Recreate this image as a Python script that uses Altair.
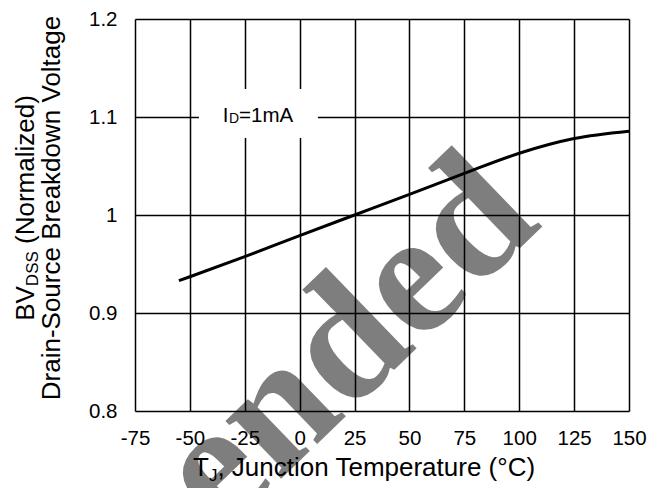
import altair as alt
import pandas as pd

# Curve data
temps = [-55, -50, -25, 0, 25, 50, 75, 100, 125, 150]
bv_norm = [0.933, 0.937, 0.9575, 0.979, 1.000, 1.021, 1.0425, 1.063, 1.078, 1.0855]

x_ticks = [-75, -50, -25, 0, 25, 50, 75, 100, 125, 150]
y_ticks = [0.8, 0.9, 1.0, 1.1, 1.2]

FONT = "Liberation Sans"
W, H = 494, 392

curve = pd.DataFrame({"t": temps, "bv": bv_norm})
box = pd.DataFrame({"x1": [-45.9], "x2": [8.3], "y1": [1.0786], "y2": [1.1286]})
one = pd.DataFrame({"a": [0]})

xs = alt.Scale(domain=[-75, 150], nice=False, zero=False)
ys = alt.Scale(domain=[0.8, 1.2], nice=False, zero=False)

xaxis = alt.Axis(values=x_ticks, title="", grid=True, gridColor="black", gridWidth=1.5,
                 gridOpacity=1, domain=False, ticks=False, tickSize=0, labelPadding=17,
                 labelFont=FONT, labelFontSize=20.5, labelColor="black",
                 labelExpr="datum.value + ''", labelFlush=False, labelOverlap=False)
yaxis = alt.Axis(values=y_ticks, title="", grid=True, gridColor="black", gridWidth=1.5,
                 gridOpacity=1, domain=False, ticks=False, tickSize=0, labelPadding=18,
                 labelFont=FONT, labelFontSize=20.5, labelColor="black",
                 labelExpr="format(datum.value, '.1~f')", labelFlush=False, labelOverlap=False)

base_line = alt.Chart(curve).mark_line(color="black", strokeWidth=3, interpolate="monotone").encode(
    x=alt.X("t:Q", scale=xs, axis=xaxis),
    y=alt.Y("bv:Q", scale=ys, axis=yaxis),
)

rect = alt.Chart(box).mark_rect(color="white", opacity=1).encode(
    x=alt.X("x1:Q", scale=xs), x2="x2:Q",
    y=alt.Y("y1:Q", scale=ys), y2="y2:Q",
)

# I_D=1mA label pieces
lab_df = pd.DataFrame({"x": [-19.1], "y": [1.0952]})
F1, S1 = 20.5, 14
w_I = 0.278 * F1
w_D = 0.722 * S1
tot = w_I + w_D + 2.640 * F1
start = -tot / 2
lab_I = alt.Chart(lab_df).mark_text(text="I", font=FONT, fontSize=F1, align="left",
                                    baseline="alphabetic", dx=start, color="black").encode(
    x=alt.X("x:Q", scale=xs), y=alt.Y("y:Q", scale=ys))
lab_D = alt.Chart(lab_df).mark_text(text="D", font=FONT, fontSize=S1, align="left",
                                    baseline="alphabetic", dx=start + w_I + 0.5, dy=1, color="black").encode(
    x=alt.X("x:Q", scale=xs), y=alt.Y("y:Q", scale=ys))
lab_R = alt.Chart(lab_df).mark_text(text="=1mA", font=FONT, fontSize=F1, align="left",
                                    baseline="alphabetic", dx=start + w_I + w_D + 0.5, color="black").encode(
    x=alt.X("x:Q", scale=xs), y=alt.Y("y:Q", scale=ys))

# Y title (two lines, rotated)
FT, ST = 26, 17
w_BV = 1.334 * FT
w_DSS = 2.056 * ST
w_sp = 0.278 * FT
w_norm = 5.722 * FT
tot1 = w_BV + w_DSS + w_sp + w_norm
s1 = -tot1 / 2
yc = 189
yt1 = alt.Chart(one).mark_text(text="BV", font=FONT, fontSize=FT, angle=270, align="left",
                               baseline="alphabetic", dx=s1, color="black").encode(
    x=alt.value(-101.5), y=alt.value(yc))
yt2 = alt.Chart(one).mark_text(text="DSS", font=FONT, fontSize=ST, angle=270, align="left",
                               baseline="alphabetic", dx=s1 + w_BV, dy=4, color="black").encode(
    x=alt.value(-101.5), y=alt.value(yc))
yt3 = alt.Chart(one).mark_text(text="(Normalized)", font=FONT, fontSize=FT, angle=270, align="left",
                               baseline="alphabetic", dx=s1 + w_BV + w_DSS + w_sp, color="black").encode(
    x=alt.value(-101.5), y=alt.value(yc))
yt4 = alt.Chart(one).mark_text(text="Drain-Source Breakdown Voltage", font=FONT, fontSize=FT,
                               angle=270, align="center", baseline="alphabetic", color="black").encode(
    x=alt.value(-75), y=alt.value(yc))

# X title
xt_x0 = 58
xt_y = 457
w_T = 0.611 * FT
w_J = 0.5 * ST
xt1 = alt.Chart(one).mark_text(text="T", font=FONT, fontSize=FT, align="left",
                               baseline="alphabetic", color="black").encode(
    x=alt.value(xt_x0), y=alt.value(xt_y))
xt2 = alt.Chart(one).mark_text(text="J", font=FONT, fontSize=ST, align="left",
                               baseline="alphabetic", dy=5, color="black").encode(
    x=alt.value(xt_x0 + w_T), y=alt.value(xt_y))
xt3 = alt.Chart(one).mark_text(text=", Junction Temperature (°C)", font=FONT, fontSize=FT, align="left",
                               baseline="alphabetic", color="black").encode(
    x=alt.value(xt_x0 + w_T + w_J), y=alt.value(xt_y))

# Watermark
wm = alt.Chart(one).mark_text(text="ended", font="Liberation Serif", fontWeight="bold", fontSize=175,
                              angle=316, align="left", baseline="alphabetic", color="black",
                              opacity=0.5).encode(
    x=alt.value(87), y=alt.value(517))

chart = alt.layer(
    rect, base_line, lab_I, lab_D, lab_R, yt1, yt2, yt3, yt4, xt1, xt2, xt3, wm
).properties(
    width=W, height=H,
    autosize=alt.AutoSizeParams(type="none"),
    padding={"left": 127, "top": 11, "right": 25, "bottom": 80},
).configure_view(stroke="black", strokeWidth=1.5).configure(background="white")

chart.save("out.html", embed_options={"renderer": "svg", "actions": False})
